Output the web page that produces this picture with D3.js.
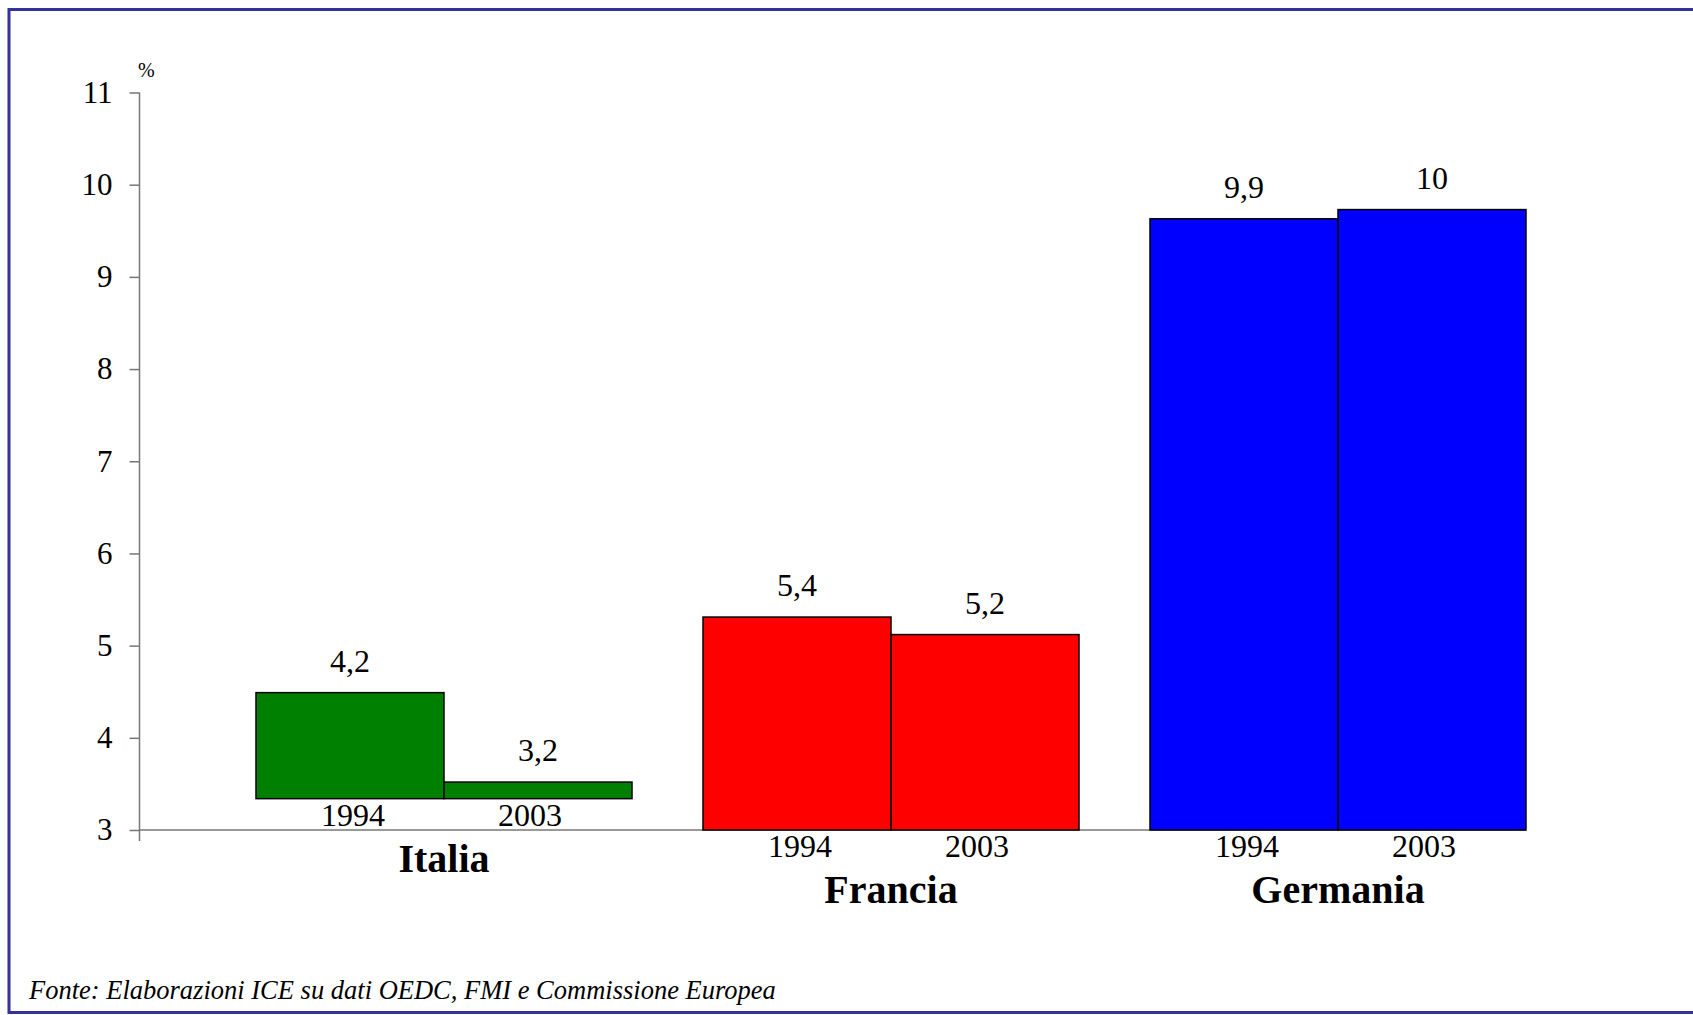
<!DOCTYPE html>
<html>
<head>
<meta charset="utf-8">
<script src="https://cdn.jsdelivr.net/npm/d3@7"></script>
<style>
  html, body { margin: 0; padding: 0; background: #fff; }
  svg { display: block; }
  text { font-family: "Liberation Serif", "Times New Roman", serif; fill: #000; }
</style>
</head>
<body>
<svg id="chart" width="1693" height="1015"></svg>
<script>
// ---- data ----
const categories = ["Italia", "Francia", "Germania"];
const years = ["1994", "2003"];
const colors = ["#008000", "#FF0000", "#0000FF"];
// printed value labels
const labels1994 = ["4,2", "5,4", "9,9"];
const labels2003 = ["3,2", "5,2", "10"];
// bar tops as drawn on the axis scale
const top1994 = [4.49, 5.31, 9.63];
const top2003 = [3.52, 5.12, 9.73];
// bar bases as drawn (Italia floats above the axis)
const bases = [3.34, 3, 3];
const yTicks = [3, 4, 5, 6, 7, 8, 9, 10, 11];
const source = "Fonte: Elaborazioni ICE su dati OEDC, FMI e Commissione Europea";

const svg = d3.select("#chart");
const SERIF = "Liberation Serif, Times New Roman, serif";

// frame
svg.append("rect")
  .attr("x", 9).attr("y", 9.5)
  .attr("width", 1720).attr("height", 1003)
  .attr("fill", "none").attr("stroke", "#333399").attr("stroke-width", 3);

const axisX = 139.5;
const y = d3.scaleLinear().domain([3, 11]).range([830, 92.5]);
const x = d3.scalePoint().domain(categories).range([444, 1338]);
const barW = 188;
const xi = d3.scaleBand().domain(years).range([-barW, barW]);
const yearShift = { "1994": 3, "2003": -8 };

// y axis
const yAxis = d3.axisLeft(y).tickValues(yTicks).tickSize(10).tickPadding(17).tickFormat(d3.format("d"));
const gy = svg.append("g").attr("transform", `translate(${axisX},0)`).call(yAxis)
  .attr("font-family", SERIF);
gy.select(".domain").remove();
gy.selectAll(".tick line").attr("stroke", "#777").attr("stroke-width", 1.5);
gy.selectAll(".tick text").style("font-size", "31px").style("font-family", SERIF).attr("fill", "#000");
svg.append("line").attr("x1", axisX).attr("x2", axisX)
  .attr("y1", y(11)).attr("y2", y(3) + 11)
  .attr("stroke", "#777").attr("stroke-width", 1.5);
svg.append("line").attr("x1", axisX).attr("x2", x("Germania") + barW)
  .attr("y1", y(3)).attr("y2", y(3))
  .attr("stroke", "#777").attr("stroke-width", 1.5);

svg.append("text").attr("x", 138).attr("y", 77).style("font-size", "20px").style("font-family", SERIF).text("%");

// bars
const rows = [];
categories.forEach((c, i) => {
  rows.push({ cat: c, year: years[0], base: bases[i], top: top1994[i], label: labels1994[i], color: colors[i] });
  rows.push({ cat: c, year: years[1], base: bases[i], top: top2003[i], label: labels2003[i], color: colors[i] });
});

svg.selectAll("rect.bar").data(rows).enter().append("rect")
  .attr("class", "bar")
  .attr("x", d => x(d.cat) + xi(d.year))
  .attr("y", d => y(d.top))
  .attr("width", xi.bandwidth())
  .attr("height", d => y(d.base) - y(d.top))
  .attr("fill", d => d.color)
  .attr("stroke", "#000").attr("stroke-width", 1.5);

// value labels
svg.selectAll("text.val").data(rows).enter().append("text")
  .attr("class", "val")
  .attr("x", d => x(d.cat) + xi(d.year) + xi.bandwidth() / 2)
  .attr("y", d => y(d.top) - 21)
  .attr("text-anchor", "middle")
  .style("font-size", "32px").style("font-family", SERIF)
  .text(d => d.label);

// year labels
svg.selectAll("text.yr").data(rows).enter().append("text")
  .attr("class", "yr")
  .attr("x", d => x(d.cat) + xi(d.year) + xi.bandwidth() / 2 + yearShift[d.year])
  .attr("y", d => y(d.base) + 27)
  .attr("text-anchor", "middle")
  .style("font-size", "32px").style("font-family", SERIF)
  .text(d => d.year);

// category labels
svg.selectAll("text.cat").data(categories).enter().append("text")
  .attr("class", "cat")
  .attr("x", d => x(d))
  .attr("y", (d, i) => y(bases[i]) + 73)
  .attr("text-anchor", "middle")
  .style("font-size", "40px").style("font-weight", "bold").style("font-family", SERIF)
  .text(d => d);

// source
svg.append("text").attr("x", 29).attr("y", 999)
  .style("font-size", "26.5px").style("font-style", "italic").style("font-family", SERIF)
  .text(source);
</script>
</body>
</html>
